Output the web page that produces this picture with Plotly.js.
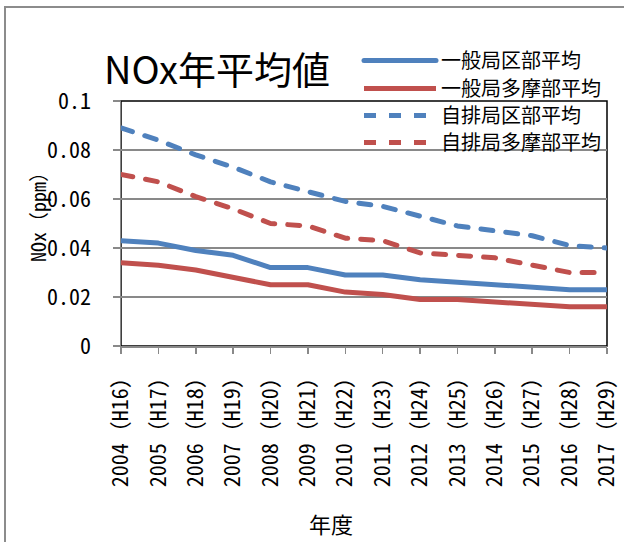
<!DOCTYPE html>
<html>
<head>
<meta charset="utf-8">
<script src="https://cdn.plot.ly/plotly-3.0.1.min.js"></script>
<style>
  html, body { margin: 0; padding: 0; width: 624px; height: 542px; overflow: hidden; background: #fff; }
  #chart { position: absolute; left: 0; top: 0; width: 624px; height: 542px; }
  #frame { position: absolute; left: 4px; top: 6px; width: 700px; height: 700px;
           border: 2px solid #8c8c8c; pointer-events: none; z-index: 10; }
  #chart .scatterlayer path.js-line, #chart .legend path.js-line { stroke-linecap: round; stroke-linejoin: round; }
</style>
</head>
<body>
<div id="chart"></div>
<div id="frame"></div>
<script>
// ---- data ----
const years = ["2004（H16）","2005（H17）","2006（H18）","2007（H19）","2008（H20）","2009（H21）","2010（H22）",
               "2011（H23）","2012（H24）","2013（H25）","2014（H26）","2015（H27）","2016（H28）","2017（H29）"];
const seriesNames = ["一般局区部平均","一般局多摩部平均","自排局区部平均","自排局多摩部平均"];
const ippanKubu   = [0.043,0.042,0.039,0.037,0.032,0.032,0.029,0.029,0.027,0.026,0.025,0.024,0.023,0.023];
const ippanTama   = [0.034,0.033,0.031,0.028,0.025,0.025,0.022,0.021,0.019,0.019,0.018,0.017,0.016,0.016];
const jihaiKubu   = [0.089,0.084,0.078,0.073,0.067,0.063,0.059,0.057,0.053,0.049,0.047,0.045,0.041,0.040];
const jihaiTama   = [0.070,0.067,0.061,0.056,0.050,0.049,0.044,0.043,0.038,0.037,0.036,0.033,0.030,0.030];
const yTickVals   = [0,0.02,0.04,0.06,0.08,0.1];
const yTickText   = ["0","0.02","0.04","0.06","0.08","0.1"];

const BLUE = "#4F81BD", RED = "#C0504D";
const FONT = '"Noto Sans CJK JP", "Noto Sans", sans-serif';
const MONO = '"Noto Sans Mono CJK JP", "Noto Sans CJK JP", sans-serif';

function tr(name, y, color, dash, lg) {
  return { type: "scatter", mode: "lines", name: name, x: years, y: y, legend: lg,
           line: { color: color, width: 5, dash: dash }, hoverinfo: "skip" };
}
const data = [
  tr(seriesNames[0], ippanKubu, BLUE, "solid", "legend"),
  tr(seriesNames[1], ippanTama, RED, "solid", "legend2"),
  tr(seriesNames[2], jihaiKubu, BLUE, "12px,13px", "legend3"),
  tr(seriesNames[3], jihaiTama, RED, "12px,13px", "legend4")
];

function lg(topPx) {
  return { xref: "container", yref: "container", x: 359/624, xanchor: "left",
           y: 1 - topPx/542, yanchor: "top", bgcolor: "rgba(0,0,0,0)",
           font: { size: 20, family: FONT, color: "#000" }, itemwidth: 72 };
}

const layout = {
  width: 624, height: 542,
  margin: { l: 121, r: 17, t: 101, b: 196, autoexpand: false },
  paper_bgcolor: "#ffffff", plot_bgcolor: "#ffffff",
  font: { family: FONT, color: "#000" },
  showlegend: true,
  title: { text: "NOx年平均値", font: { size: 38, family: FONT, color: "#000" },
           xref: "container", yref: "container", x: 104/624, xanchor: "left",
           y: 1 - 71/542, yanchor: "middle" },
  legend: lg(41), legend2: lg(69), legend3: lg(96), legend4: lg(123),
  xaxis: {
    type: "category", range: [0, years.length - 1], fixedrange: true,
    tickmode: "array", tickvals: years, ticktext: years,
    showgrid: false, zeroline: false,
    showline: true, linecolor: "#898989", linewidth: 1.5,
    ticks: "outside", ticklen: 6, tickcolor: "#898989", tickwidth: 1.5,
    tickangle: -90, tickfont: { size: 22, family: MONO, color: "#000" },
    ticklabelstandoff: 4
  },
  yaxis: {
    range: [0, 0.1], fixedrange: true,
    tickvals: yTickVals, ticktext: yTickText,
    showgrid: true, gridcolor: "#898989", gridwidth: 1.5, zeroline: false,
    showline: true, linecolor: "#898989", linewidth: 1.5,
    ticks: "outside", ticklen: 7, tickcolor: "#898989", tickwidth: 1.5,
    tickfont: { size: 22, family: MONO, color: "#000" },
    ticklabelstandoff: 17
  },
  shapes: [
    { type: "rect", xref: "paper", yref: "paper", x0: 0, x1: 1, y0: 0, y1: 1,
      line: { color: "#000", width: 1.5 }, fillcolor: "rgba(0,0,0,0)", layer: "between" }
  ],
  annotations: [
    { text: "NOx（ppm）", xref: "paper", yref: "paper", x: (37 - 121)/486, y: (346 - 212)/245,
      xanchor: "center", yanchor: "middle", textangle: -90, showarrow: false,
      font: { size: 20, family: MONO, color: "#000" } },
    { text: "年度", xref: "paper", yref: "paper", x: (331 - 121)/486, y: (346 - 523)/245,
      xanchor: "center", yanchor: "middle", showarrow: false,
      font: { size: 22, family: FONT, color: "#000" } }
  ]
};

Plotly.newPlot("chart", data, layout, { staticPlot: true, displayModeBar: false });
</script>
</body>
</html>
